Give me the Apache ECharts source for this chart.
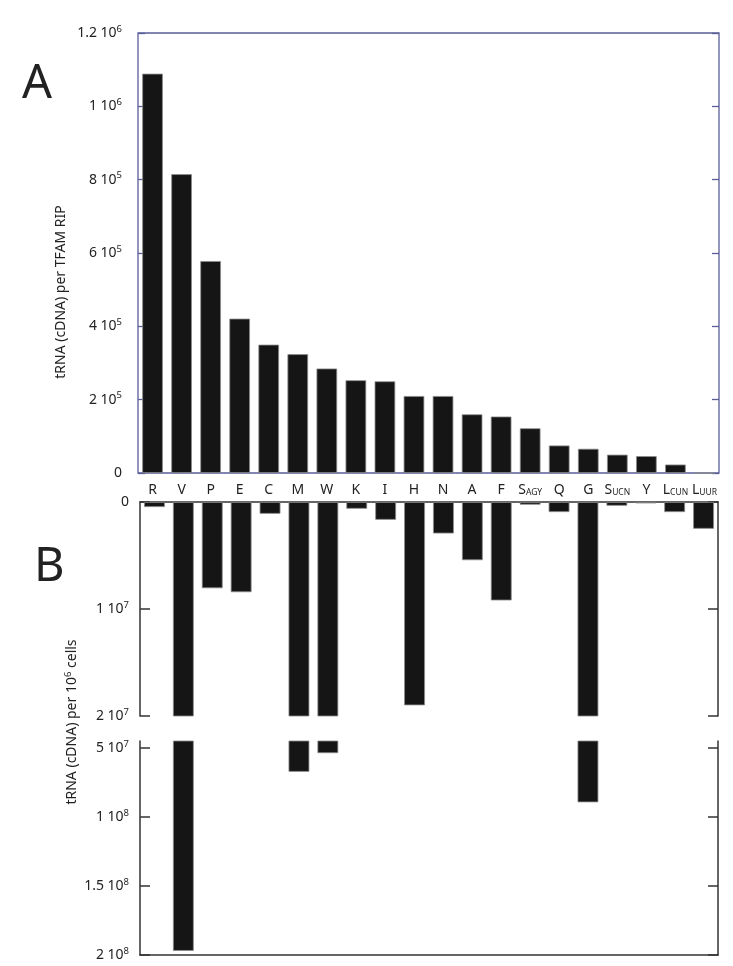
<!DOCTYPE html>
<html>
<head>
<meta charset="utf-8">
<script src="https://cdn.jsdelivr.net/npm/echarts@6/dist/echarts.min.js"></script>
<style>
  html, body { margin: 0; padding: 0; background: #fff; }
  #chart { width: 733px; height: 966px; }
</style>
</head>
<body>
<div id="chart"></div>
<script>
// 氨基酸 tRNA 类别
var categories = ['R', 'V', 'P', 'E', 'C', 'M', 'W', 'K', 'I', 'H', 'N', 'A', 'F', 'S_AGY', 'Q', 'G', 'S_UCN', 'Y', 'L_CUN', 'L_UUR'];
// A: tRNA (cDNA) per TFAM RIP
var ripValues = [1089000, 815000, 578000, 421000, 350000, 324000, 285000, 253000, 250000, 210000, 210000, 160000, 154000, 122000, 75000, 66000, 50000, 46000, 23000, 0];
// B: tRNA (cDNA) per 10^6 cells
var cellValues = [4.7e5, 1.97e8, 8.06e6, 8.43e6, 1.1e6, 6.73e7, 5.38e7, 6.3e5, 1.66e6, 1.9e7, 2.94e6, 5.44e6, 9.2e6, 2.5e5, 9.4e5, 8.94e7, 3.5e5, 1.3e5, 9.4e5, 2.5e6];
// 断轴: 上段 0 - 2e7, 下段 4.5e7 - 2e8
var upperMax = 2e7;
var lowerMin = 4.5e7;
var lowerMax = 2e8;
var lowerTicks = [5e7, 1e8, 1.5e8, 2e8];

var FONT = 'Noto Sans';
var TXT = '#222';
var blueLine = '#5a5e98';
var darkLine = '#333';

function sciLabel(v) {
    if (v === 0) return '{m|0}';
    var e = Math.floor(Math.log10(v) + 1e-9);
    var m = +(v / Math.pow(10, e)).toFixed(2);
    return '{m|' + m + ' 10}{e|' + e + '}';
}
var sciRich = {
    m: { fontSize: 14, fontFamily: FONT, color: TXT, lineHeight: 18 },
    e: { fontSize: 9.5, fontFamily: FONT, color: TXT, lineHeight: 10, verticalAlign: 'top' }
};
function catLabel(c) {
    var p = c.split('_');
    if (p.length === 1) return '{n|' + p[0] + '}';
    return '{n|' + p[0] + '}{s|' + p[1] + '}';
}

var option = {
    animation: false,
    backgroundColor: '#fff',
    grid: [
        { left: 138, top: 33, width: 581, height: 440, show: true, borderColor: blueLine, borderWidth: 1.3, backgroundColor: 'transparent' },
        { left: 140, top: 502, width: 578, height: 214 },
        { left: 140, top: 741, width: 578, height: 214 }
    ],
    xAxis: [
        {
            type: 'category', gridIndex: 0, data: categories, position: 'bottom',
            axisLine: { show: false }, axisTick: { show: false },
            axisLabel: {
                interval: 0, margin: 8, formatter: catLabel,
                rich: {
                    n: { fontSize: 14, fontFamily: FONT, color: TXT, lineHeight: 16, verticalAlign: 'bottom' },
                    s: { fontSize: 8.5, fontFamily: FONT, color: TXT, lineHeight: 12, verticalAlign: 'bottom' }
                }
            }
        },
        {
            type: 'category', gridIndex: 1, data: categories, position: 'top',
            axisLine: { show: true, onZero: false, lineStyle: { color: darkLine, width: 1.5 } },
            axisTick: { show: false }, axisLabel: { show: false }
        },
        {
            type: 'category', gridIndex: 2, data: categories, position: 'bottom',
            axisLine: { show: true, onZero: false, lineStyle: { color: darkLine, width: 1.5 } },
            axisTick: { show: false }, axisLabel: { show: false }
        }
    ],
    yAxis: [
        {
            type: 'value', gridIndex: 0, min: 0, max: 1.2e6, interval: 2e5, position: 'left',
            axisLine: { show: false },
            axisTick: { show: true, inside: true, length: 7, lineStyle: { color: blueLine, width: 1.3 } },
            axisLabel: { margin: 16, formatter: sciLabel, rich: sciRich },
            splitLine: { show: false }
        },
        {
            type: 'value', gridIndex: 0, min: 0, max: 1.2e6, interval: 2e5, position: 'right',
            axisLine: { show: false },
            axisTick: { show: true, inside: true, length: 7, lineStyle: { color: blueLine, width: 1.3 } },
            axisLabel: { show: false }, splitLine: { show: false }
        },
        {
            type: 'value', gridIndex: 1, min: 0, max: upperMax, interval: 1e7, inverse: true, position: 'left',
            axisLine: { show: true, lineStyle: { color: darkLine, width: 1.5 } },
            axisTick: { show: true, inside: true, length: 10, lineStyle: { color: darkLine, width: 1.5 } },
            axisLabel: { margin: 11, formatter: sciLabel, rich: sciRich },
            splitLine: { show: false }
        },
        {
            type: 'value', gridIndex: 1, min: 0, max: upperMax, interval: 1e7, inverse: true, position: 'right',
            axisLine: { show: true, lineStyle: { color: darkLine, width: 1.5 } },
            axisTick: { show: true, inside: true, length: 10, lineStyle: { color: darkLine, width: 1.5 } },
            axisLabel: { show: false }, splitLine: { show: false }
        },
        {
            type: 'value', gridIndex: 2, min: lowerMin, max: lowerMax, inverse: true, position: 'left',
            axisLine: { show: true, lineStyle: { color: darkLine, width: 1.5 } },
            axisTick: { show: true, inside: true, length: 10, customValues: lowerTicks, lineStyle: { color: darkLine, width: 1.5 } },
            axisLabel: { margin: 11, customValues: lowerTicks, formatter: sciLabel, rich: sciRich },
            splitLine: { show: false }
        },
        {
            type: 'value', gridIndex: 2, min: lowerMin, max: lowerMax, inverse: true, position: 'right',
            axisLine: { show: true, lineStyle: { color: darkLine, width: 1.5 } },
            axisTick: { show: true, inside: true, length: 10, customValues: lowerTicks, lineStyle: { color: darkLine, width: 1.5 } },
            axisLabel: { show: false }, splitLine: { show: false }
        }
    ],
    series: [
        {
            type: 'bar', xAxisIndex: 0, yAxisIndex: 0, data: ripValues, barWidth: '71%',
            itemStyle: { color: '#151515', borderColor: '#8c8c8c', borderWidth: 0.8 }
        },
        {
            type: 'bar', xAxisIndex: 1, yAxisIndex: 2, data: cellValues, barWidth: '72%', clip: true,
            itemStyle: { color: '#151515', borderColor: '#8c8c8c', borderWidth: 0.8 }
        },
        {
            type: 'bar', xAxisIndex: 2, yAxisIndex: 4, data: cellValues, barWidth: '72%', clip: true,
            itemStyle: { color: '#151515', borderColor: '#8c8c8c', borderWidth: 0.8 }
        }
    ],
    graphic: [
        { type: 'text', x: 22, y: 85, style: { text: 'A', fontSize: 47, fontFamily: FONT, fill: TXT, textAlign: 'left', textVerticalAlign: 'middle' } },
        { type: 'text', x: 34, y: 568, style: { text: 'B', fontSize: 47, fontFamily: FONT, fill: TXT, textAlign: 'left', textVerticalAlign: 'middle' } },
        {
            type: 'text', x: 61, y: 292, rotation: Math.PI / 2,
            style: { text: 'tRNA (cDNA) per TFAM RIP', fontSize: 14, fontFamily: FONT, fill: TXT, textAlign: 'center', textVerticalAlign: 'middle' }
        },
        {
            type: 'text', x: 72, y: 722, rotation: Math.PI / 2,
            style: {
                text: '{n|tRNA (cDNA) per 10}{s|6}{n| cells}',
                textAlign: 'center', textVerticalAlign: 'middle',
                rich: {
                    n: { fontSize: 14, fontFamily: FONT, fill: TXT, lineHeight: 18 },
                    s: { fontSize: 9.5, fontFamily: FONT, fill: TXT, lineHeight: 10, verticalAlign: 'top' }
                }
            }
        }
    ]
};

var chart = echarts.init(document.getElementById('chart'), null, { renderer: 'canvas' });
chart.setOption(option);
</script>
</body>
</html>
